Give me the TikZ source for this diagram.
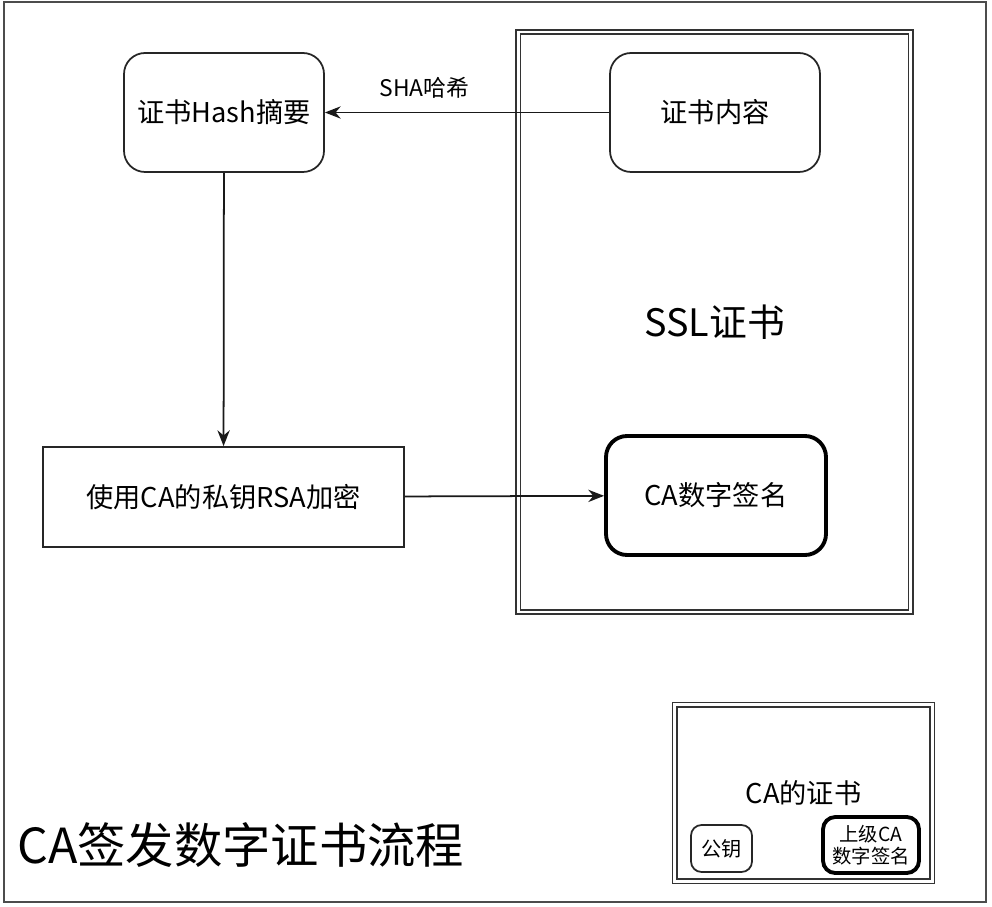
\documentclass[tikz,border=0pt]{standalone}
\usepackage{fontspec}
\setmainfont{Noto Sans CJK SC}
\usetikzlibrary{arrows.meta,positioning}

\tikzset{
  box/.style={draw=black!85, line width=1pt, minimum width=#1, align=center},
  roundbox/.style={box=#1, rounded corners=12pt},
  sigbox/.style={roundbox=#1, draw=black, line width=2.2pt},
  certbox/.style={draw=black!80, double, double distance=1.6pt, line width=0.8pt, align=center},
  flow/.style={-{Stealth[length=9pt,width=7pt]}, draw=black!90, line width=1pt}
}

\begin{document}
\begin{tikzpicture}[font=\fontsize{15.5pt}{18pt}\selectfont]
  \useasboundingbox (0,0) rectangle (19.84,18.12);
  % outer frame
  \draw[black!70, line width=1.2pt] (0.08,0.08) rectangle (19.72,18.08);

  % SSL certificate
  \node[certbox, minimum width=7.85cm, minimum height=11.6cm,
        font=\fontsize{21.5pt}{26pt}\selectfont] (ssl) at (14.29,11.68) {SSL证书};
  \node[roundbox=4.2cm, minimum height=2.38cm] (content) at (14.3,15.87) {证书内容};
  \node[sigbox=4.4cm, minimum height=2.38cm] (casig) at (14.32,8.21) {CA数字签名};

  % hash and encryption
  \node[roundbox=4cm, minimum height=2.38cm] (hash) at (4.48,15.87) {证书Hash摘要};
  \node[box=7.22cm, minimum height=2cm] (rsa) at (4.47,8.18) {使用CA的私钥RSA加密};

  \draw[flow] (content) -- node[pos=0.65, above=4pt, font=\fontsize{13pt}{15pt}\selectfont] (sha) {SHA哈希} (hash);
  \draw[flow] (hash) -- (rsa);
  \draw[flow] (rsa) -- (casig);

  % CA certificate
  \node[certbox, minimum width=5.15cm, minimum height=3.53cm,
        font=\fontsize{15.5pt}{18pt}\selectfont] (cacert) at (16.07,2.26) {CA的证书};
  \node[roundbox=1.22cm, minimum height=0.94cm, rounded corners=6pt,
        font=\fontsize{11.5pt}{13pt}\selectfont] (pubkey) at (14.43,1.15) {公钥};
  \node[sigbox=1.92cm, minimum height=1.12cm, rounded corners=7pt, inner sep=1pt,
        font=\fontsize{11pt}{12.5pt}\selectfont] (upsig) at (17.42,1.22) {上级CA\\数字签名};

  % title
  \node[anchor=west, font=\fontsize{27.5pt}{32pt}\selectfont] (title) at (0.22,1.22) {CA签发数字证书流程};
\end{tikzpicture}
\end{document}
